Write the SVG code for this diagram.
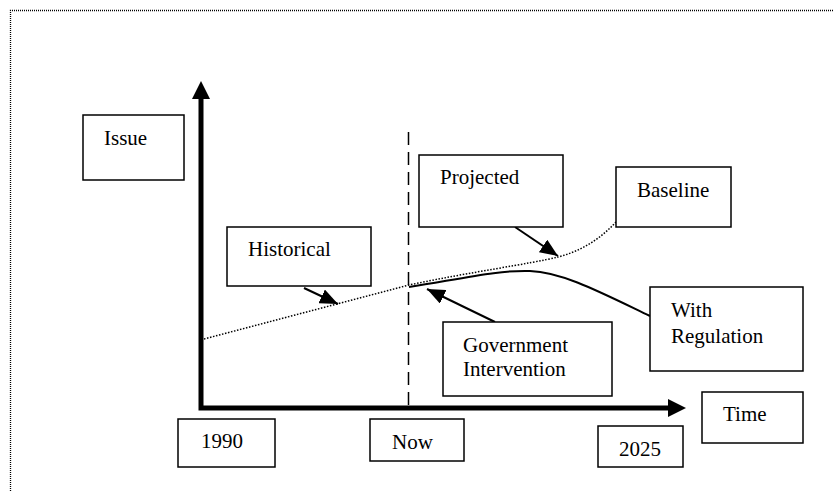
<svg xmlns="http://www.w3.org/2000/svg" width="835" height="491" viewBox="0 0 835 491">
<style>
.box{fill:#fff;stroke:#000;stroke-width:1.5}
.t{font-family:"Liberation Serif","Times New Roman",serif;font-size:21px;fill:#000}
.conn{fill:none;stroke:#000;stroke-width:2}
.dot{fill:none;stroke:#000;stroke-width:1.5;stroke-dasharray:1.5 1.6}
</style>
<defs>
<marker id="ah2" viewBox="0 0 10 10" refX="10" refY="5" markerWidth="18" markerHeight="15" markerUnits="userSpaceOnUse" orient="auto" preserveAspectRatio="none">
<path d="M0,0 L10,5 L0,10 z" fill="#000"/>
</marker>
</defs>
<rect width="835" height="491" fill="#fff"/>
<path d="M10.5,491 L10.5,10.5 L833,10.5" fill="none" stroke="#000" stroke-width="1.3" stroke-dasharray="1 1"/>
<g id="connectors">
<path id="axes" d="M201,99 L201,408 L668,408" fill="none" stroke="#000" stroke-width="5" stroke-linejoin="miter"/>
<polygon points="201,81 210,99 192,99" fill="#000"/>
<polygon points="686,408 668,399 668,417" fill="#000"/>
<line x1="408.5" y1="132" x2="408.5" y2="408" stroke="#000" stroke-width="1.5" stroke-dasharray="13 7"/>
<path class="dot" d="M204,339 L409,285 C470,272 530,264 558,257 C590,249 615,228 631,202"/>
<path class="conn" d="M409,287 C470,277 500,270 530,271 C562,272 600,292 650,316"/>
<line class="conn" x1="304" y1="288" x2="338" y2="304" marker-end="url(#ah2)"/>
<line class="conn" x1="515" y1="227" x2="558" y2="256" marker-end="url(#ah2)"/>
<line class="conn" x1="495" y1="322" x2="427" y2="289" marker-end="url(#ah2)"/>
</g>
<g id="issue"><rect class="box" x="83" y="115" width="101" height="65"/><text class="t" x="104" y="145">Issue</text></g>
<g id="historical"><rect class="box" x="227" y="227" width="144" height="59"/><text class="t" x="248" y="256">Historical</text></g>
<g id="projected"><rect class="box" x="419" y="155" width="144" height="72"/><text class="t" x="440" y="184">Projected</text></g>
<g id="baseline"><rect class="box" x="616" y="167" width="115" height="60"/><text class="t" x="637" y="197">Baseline</text></g>
<g id="government"><rect class="box" x="443" y="322" width="169" height="74"/><text class="t" x="463" y="352">Government</text><text class="t" x="463" y="376">Intervention</text></g>
<g id="regulation"><rect class="box" x="650" y="287" width="153" height="84"/><text class="t" x="671" y="317">With</text><text class="t" x="671" y="343">Regulation</text></g>
<g id="time"><rect class="box" x="702" y="392" width="101" height="51"/><text class="t" x="723" y="421">Time</text></g>
<g id="y1990"><rect class="box" x="178" y="419" width="97" height="48"/><text class="t" x="201" y="448">1990</text></g>
<g id="now"><rect class="box" x="370" y="419" width="94" height="42"/><text class="t" x="392" y="449">Now</text></g>
<g id="y2025"><rect class="box" x="598" y="426" width="85" height="41"/><text class="t" x="619" y="456">2025</text></g>
</svg>
